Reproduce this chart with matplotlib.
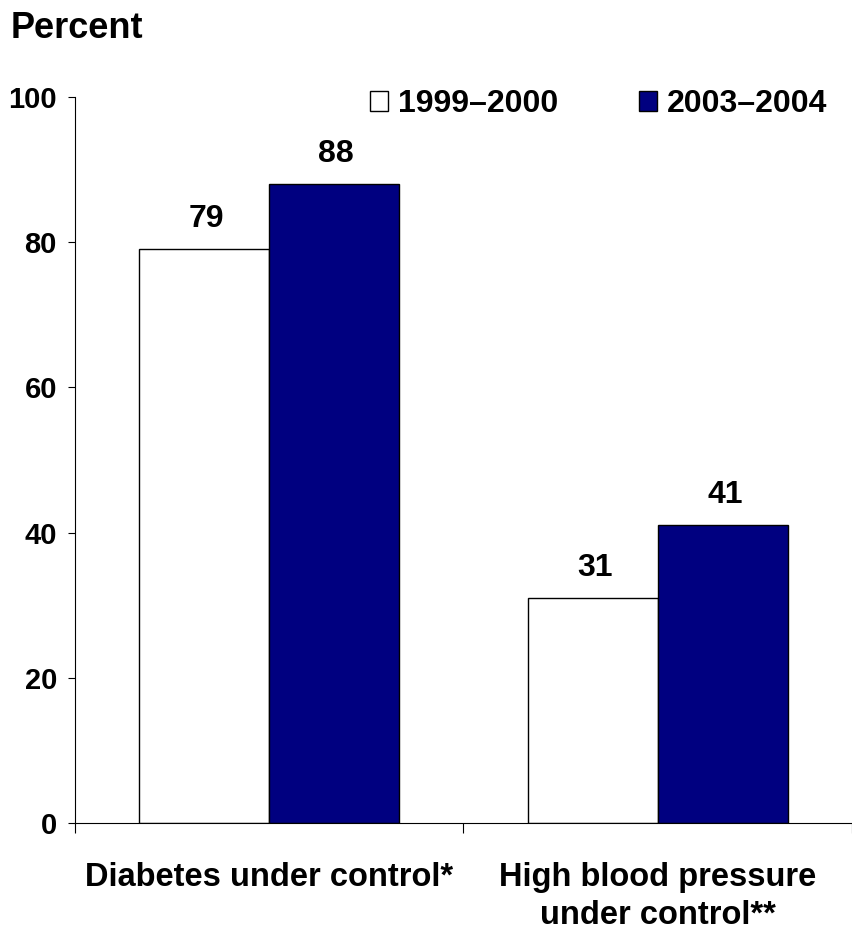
import matplotlib.pyplot as plt
from matplotlib.patches import Patch
import numpy as np

plt.rcParams['font.family'] = ['Liberation Sans', 'DejaVu Sans']
plt.rcParams['font.weight'] = 'bold'

categories = ['Diabetes under control*', 'High blood pressure\nunder control**']
years = ['1999\u20132000', '2003\u20132004']
early = [79, 31]
late = [88, 41]
colors = ['white', '#000080']

fig = plt.figure(figsize=(8.53, 9.32), dpi=100)
ax = fig.add_axes([75 / 853, 1 - 823 / 932, 777 / 853, 726 / 932])

x = np.arange(len(categories)) + 0.5  # group centres
width = 0.335

rects1 = ax.bar(x - width / 2, early, width, color=colors[0], edgecolor='black', linewidth=1)
rects2 = ax.bar(x + width / 2, late, width, color=colors[1], edgecolor='black', linewidth=1)

for rects in (rects1, rects2):
    for rect in rects:
        height = rect.get_height()
        ax.annotate('{}'.format(height),
                    xy=(rect.get_x() + rect.get_width() / 2 + 0.005, height),
                    xytext=(0, 11), textcoords='offset points',
                    ha='center', va='bottom', fontsize=23, fontweight='bold')

ax.set_xlim(0, 2)
ax.set_ylim(0, 100)
ax.set_yticks([0, 20, 40, 60, 80, 100])
ax.tick_params(axis='y', length=5, width=0.8, pad=8, labelsize=21)

ax.set_xticks(x)
ax.set_xticklabels(categories, fontsize=23.5, fontweight='bold', linespacing=1.28)
ax.set_xticks([0, 1, 2], minor=True)
ax.tick_params(axis='x', which='major', length=0, pad=28)
ax.tick_params(axis='x', which='minor', length=7, width=0.8)

ax.spines['right'].set_visible(False)
ax.spines['top'].set_visible(False)
for s in ('left', 'bottom'):
    ax.spines[s].set_linewidth(0.8)

handles = [Patch(facecolor=c, edgecolor='black', linewidth=1) for c in colors]
ax.legend(handles, years, loc='center left', bbox_to_anchor=(0.38, 0.99),
          ncol=2, frameon=False, fontsize=23, handlelength=0.56, handleheight=0.56,
          handletextpad=0.3, columnspacing=2.55, borderpad=0, borderaxespad=0)

fig.text(11 / 853, 1 - 28 / 932, 'Percent', ha='left', va='center',
         fontsize=26, fontweight='bold')

fig.savefig('out.png', dpi=100)
